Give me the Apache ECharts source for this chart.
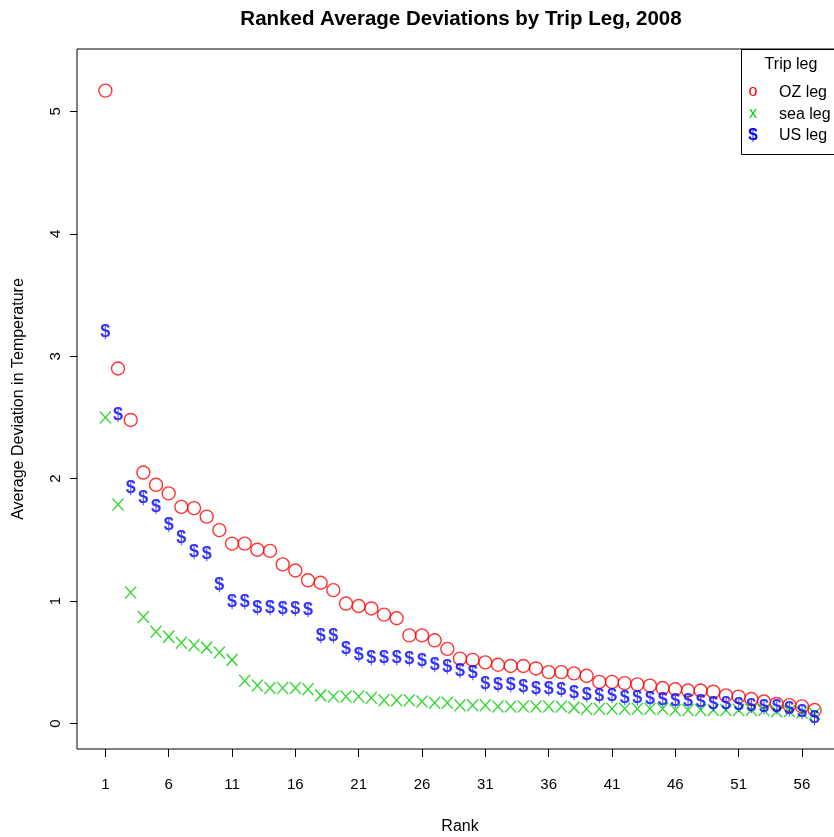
<!DOCTYPE html>
<html>
<head>
<meta charset="utf-8">
<script src="https://cdn.jsdelivr.net/npm/echarts@6/dist/echarts.min.js"></script>
<style>html,body{margin:0;padding:0;background:#fff;}#c{width:834px;height:837px;}</style>
</head>
<body>
<div id="c"></div>
<script>
const ranks = [1,2,3,4,5,6,7,8,9,10,11,12,13,14,15,16,17,18,19,20,21,22,23,24,25,26,27,28,29,30,31,32,33,34,35,36,37,38,39,40,41,42,43,44,45,46,47,48,49,50,51,52,53,54,55,56,57];
const ozLeg = [5.17,2.90,2.48,2.05,1.95,1.88,1.77,1.76,1.69,1.58,1.47,1.47,1.42,1.41,1.30,1.25,1.17,1.15,1.09,0.98,0.96,0.94,0.89,0.86,0.72,0.72,0.68,0.61,0.53,0.52,0.50,0.48,0.47,0.47,0.45,0.42,0.42,0.41,0.39,0.34,0.34,0.33,0.32,0.31,0.29,0.28,0.27,0.27,0.26,0.23,0.22,0.20,0.18,0.16,0.15,0.14,0.11];
const seaLeg = [2.50,1.79,1.07,0.87,0.75,0.71,0.66,0.64,0.62,0.58,0.52,0.35,0.31,0.29,0.29,0.29,0.28,0.23,0.22,0.22,0.22,0.21,0.19,0.19,0.19,0.18,0.17,0.17,0.15,0.15,0.15,0.14,0.14,0.14,0.14,0.14,0.14,0.13,0.12,0.12,0.12,0.12,0.12,0.12,0.12,0.11,0.11,0.11,0.11,0.11,0.11,0.11,0.11,0.10,0.10,0.09,0.08];
const usLeg = [3.21,2.53,1.93,1.85,1.78,1.63,1.52,1.41,1.39,1.14,1.00,1.00,0.95,0.95,0.94,0.94,0.935,0.72,0.72,0.62,0.57,0.54,0.54,0.54,0.535,0.52,0.49,0.47,0.44,0.42,0.33,0.32,0.32,0.31,0.29,0.29,0.28,0.26,0.24,0.23,0.23,0.22,0.22,0.21,0.20,0.19,0.19,0.18,0.17,0.17,0.16,0.15,0.14,0.14,0.13,0.10,0.05];
const xTicks = [1,6,11,16,21,26,31,36,41,46,51,56];
const yTicks = [0,1,2,3,4,5];

const FONT = 'Liberation Sans';
const pairs = (ys) => ranks.map((r, i) => [r, ys[i]]);

const chart = echarts.init(document.getElementById('c'), null, {renderer: 'canvas'});
chart.setOption({
  animation: false,
  backgroundColor: '#fff',
  title: {
    text: 'Ranked Average Deviations by Trip Leg, 2008',
    left: 456, top: 4, textAlign: 'center',
    textStyle: {fontFamily: FONT, fontSize: 20.5, fontWeight: 'bold', color: '#000'}
  },
  grid: {left: 77, top: 49, width: 766, height: 700, show: true, borderColor: '#000', borderWidth: 1, backgroundColor: 'transparent', outerBoundsMode: 'none', containLabel: false},
  xAxis: {
    type: 'value', min: -1.24, max: 59.24,
    name: 'Rank', nameLocation: 'middle', nameGap: 70,
    nameTextStyle: {fontFamily: FONT, fontSize: 16, color: '#000'},
    axisLine: {show: false, onZero: false},
    splitLine: {show: false},
    axisTick: {show: true, length: 8, customValues: xTicks, lineStyle: {color: '#000'}},
    axisLabel: {customValues: xTicks, margin: 28, fontFamily: FONT, fontSize: 15, color: '#000'}
  },
  yAxis: {
    type: 'value', min: -0.208, max: 5.51,
    name: 'Average Deviation in Temperature', nameLocation: 'middle', nameGap: 50,
    nameTextStyle: {fontFamily: FONT, fontSize: 16, color: '#000'},
    axisLine: {show: false, onZero: false},
    splitLine: {show: false},
    axisTick: {show: true, length: 7, customValues: yTicks, lineStyle: {color: '#000'}},
    axisLabel: {customValues: yTicks, rotate: 90, margin: 14, fontFamily: FONT, fontSize: 15, color: '#000'}
  },
  series: [
    {
      name: 'OZ leg', type: 'scatter', data: pairs(ozLeg),
      symbol: 'circle', symbolSize: 13,
      itemStyle: {color: 'transparent', borderColor: '#ff0000', borderWidth: 1.4},
      emphasis: {disabled: true}, silent: true
    },
    {
      name: 'sea leg', type: 'scatter', data: pairs(seaLeg),
      symbol: 'path://M0,0L10,11M10,0L0,11', symbolSize: [11, 12],
      itemStyle: {color: 'transparent', borderColor: '#00cd00', borderWidth: 1.4},
      emphasis: {disabled: true}, silent: true
    },
    {
      name: 'US leg', type: 'scatter', data: pairs(usLeg),
      symbol: 'circle', symbolSize: 1,
      itemStyle: {color: 'transparent'},
      label: {show: true, position: 'inside', formatter: '$', color: '#0000ff', fontFamily: FONT, fontSize: 18, fontWeight: 'bold', offset: [0, 1]},
      emphasis: {disabled: true}, silent: true
    }
  ],
  graphic: [
    {type: 'rect', left: 741, top: 49, shape: {width: 110, height: 105}, style: {fill: '#fff', stroke: '#000', lineWidth: 1}, z: 100},
    {type: 'text', x: 791, y: 65, style: {text: 'Trip leg', fontFamily: FONT, fontSize: 16, fill: '#000', align: 'center', verticalAlign: 'middle'}, z: 101},
    {type: 'text', x: 753, y: 92, style: {text: 'o', fontFamily: FONT, fontSize: 16, fill: '#ff0000', align: 'center', verticalAlign: 'middle'}, z: 101},
    {type: 'text', x: 753, y: 114, style: {text: 'x', fontFamily: FONT, fontSize: 16, fill: '#00cd00', align: 'center', verticalAlign: 'middle'}, z: 101},
    {type: 'text', x: 753, y: 135, style: {text: '$', fontFamily: FONT, fontSize: 17, fontWeight: 'bold', fill: '#0000ff', align: 'center', verticalAlign: 'middle'}, z: 101},
    {type: 'text', x: 779, y: 93, style: {text: 'OZ leg', fontFamily: FONT, fontSize: 16, fill: '#000', align: 'left', verticalAlign: 'middle'}, z: 101},
    {type: 'text', x: 779, y: 115, style: {text: 'sea leg', fontFamily: FONT, fontSize: 16, fill: '#000', align: 'left', verticalAlign: 'middle'}, z: 101},
    {type: 'text', x: 779, y: 136, style: {text: 'US leg', fontFamily: FONT, fontSize: 16, fill: '#000', align: 'left', verticalAlign: 'middle'}, z: 101}
  ]
});
</script>
</body>
</html>
